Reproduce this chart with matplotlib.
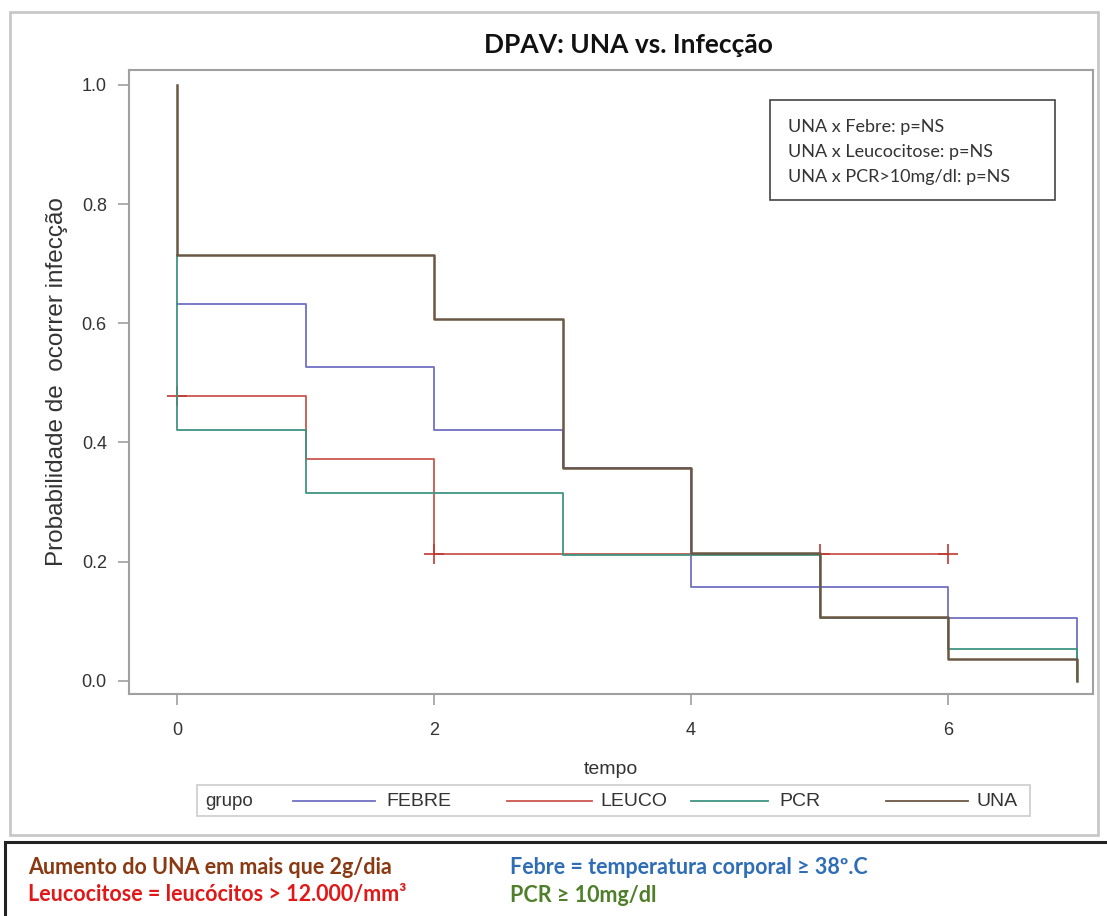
import matplotlib
matplotlib.use("Agg")
import matplotlib.pyplot as plt
from matplotlib.patches import Rectangle
from matplotlib.lines import Line2D

# tempos e probabilidades de cada grupo (degraus)
febre_t = [0, 1, 2, 3, 4, 6, 7]
febre_p = [0.632, 0.526, 0.421, 0.357, 0.158, 0.105, 0.0]

leuco_t = [0, 1, 2, 6]
leuco_p = [0.478, 0.373, 0.213, 0.213]
leuco_censor_t = [0, 2, 5, 6]
leuco_censor_p = [0.478, 0.213, 0.213, 0.213]

pcr_t = [0, 0, 1, 3, 5, 6, 7]
pcr_p = [0.714, 0.421, 0.316, 0.211, 0.105, 0.053, 0.0]

una_t = [0, 0, 2, 3, 4, 5, 6, 7]
una_p = [1.0, 0.714, 0.607, 0.357, 0.214, 0.107, 0.036, 0.0]

grupos = ["FEBRE", "LEUCO", "PCR", "UNA"]
cores = ["#6f6fc4", "#c9574f", "#3f9482", "#6b5842"]

xticks = [0, 2, 4, 6]
yticks = [0.0, 0.2, 0.4, 0.6, 0.8, 1.0]

pvalores = ["UNA x Febre: p=NS", "UNA x Leucocitose: p=NS", "UNA x PCR>10mg/dl: p=NS"]

W, H = 1107, 916
fig = plt.figure(figsize=(W / 100, H / 100), dpi=100)
fig.patch.set_facecolor("white")

def fx(px):
    return px / W

def fy(py):
    return 1 - py / H

# moldura cinza do grafico e caixa preta das notas
fig.add_artist(Rectangle((fx(10), fy(835)), fx(1098) - fx(10), fy(12) - fy(835),
                         transform=fig.transFigure, fill=False, ec="#c8c8c8", lw=2))
fig.add_artist(Rectangle((fx(5), fy(930)), fx(1120) - fx(5), fy(842) - fy(930),
                         transform=fig.transFigure, fill=False, ec="#222222", lw=2.2))

ax = fig.add_axes([fx(129), fy(694), fx(1093) - fx(129), fy(70) - fy(694)])

ax.step(febre_t, febre_p, where="post", color=cores[0], lw=1.3)
ax.step(leuco_t, leuco_p, where="post", color=cores[1], lw=1.3)
ax.plot(leuco_censor_t, leuco_censor_p, ls="none", marker="+", ms=14, mew=1.2, color="#c0392f")
ax.step(pcr_t, pcr_p, where="post", color=cores[2], lw=1.3)
ax.step(una_t, una_p, where="post", color=cores[3], lw=1.8)

ax.set_xlim(-0.374, 7.128)
ax.set_ylim(-0.022, 1.025)
ax.set_xticks(xticks)
ax.set_yticks(yticks)
ax.set_yticklabels(["%.1f" % v for v in yticks])

for s in ax.spines.values():
    s.set_color("#a0a0a0")
    s.set_linewidth(1.5)
ax.tick_params(colors="#a0a0a0", labelcolor="#333333", labelsize=13, length=8, width=1.2)
ax.tick_params(axis="x", pad=12)
ax.tick_params(axis="y", pad=8)
for lab in ax.get_xticklabels() + ax.get_yticklabels():
    lab.set_family("Liberation Sans")

ax.set_xlabel("tempo", fontsize=14, family="Liberation Sans", color="#333333", labelpad=16)
ax.set_ylabel("Probabilidade de  ocorrer infecção", fontsize=17.5, family="Liberation Sans",
              color="#333333", labelpad=10)

fig.text(fx(628), fy(45), "DPAV: UNA vs. Infecção", ha="center", va="center",
         fontsize=19, fontweight="bold", family="Lato", color="#111111")

# caixa dos p-valores
fig.add_artist(Rectangle((fx(770), fy(200)), fx(1055) - fx(770), fy(100) - fy(200),
                         transform=fig.transFigure, fill=False, ec="#444444", lw=1.2))
for i, txt in enumerate(pvalores):
    fig.text(fx(788), fy(127 + 25 * i), txt, ha="left", va="center",
             fontsize=13, family="Lato", color="#333333")

# legenda
fig.add_artist(Rectangle((fx(197), fy(816)), fx(1030) - fx(197), fy(785) - fy(816),
                         transform=fig.transFigure, fill=False, ec="#cccccc", lw=1.2))
fig.text(fx(205), fy(801), "grupo", ha="left", va="center", fontsize=13.5,
         family="Liberation Sans", color="#333333")
leg_pos = [(293, 375, 386), (507, 592, 600), (691, 768, 779), (886, 968, 977)]
for (x0, x1, xt), nome, cor in zip(leg_pos, grupos, cores):
    fig.add_artist(Line2D([fx(x0), fx(x1)], [fy(801), fy(801)], transform=fig.transFigure,
                          color=cor, lw=1.3))
    fig.text(fx(xt), fy(801), nome, ha="left", va="center", fontsize=14,
             family="Liberation Sans", color="#333333")

# notas
notas = [
    (28, 868, "Aumento do UNA em mais que 2g/dia", "#8a3a12"),
    (28, 895, "Leucocitose = leucócitos > 12.000/mm³", "#e01818"),
    (510, 868, "Febre = temperatura corporal ≥ 38º.C", "#2f6db5"),
    (510, 895, "PCR ≥ 10mg/dl", "#4f7f2a"),
]
for x, y, txt, cor in notas:
    fig.text(fx(x), fy(y), txt, ha="left", va="center", fontsize=15.5, fontweight="bold",
             family=["Lato", "DejaVu Sans"], color=cor)

fig.savefig("out.png", dpi=100)
